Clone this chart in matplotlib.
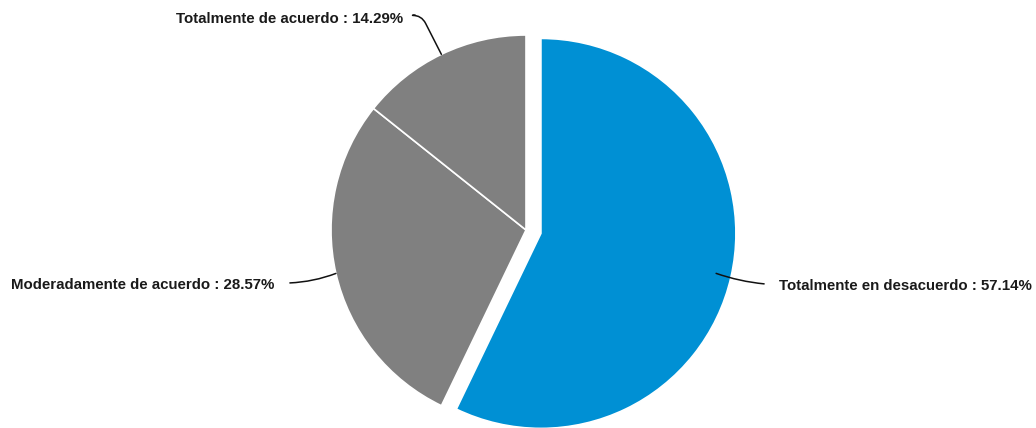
import numpy as np
import matplotlib
matplotlib.use("Agg")
import matplotlib.pyplot as plt

# ===============================
# Dados
# ===============================
labels = ["Totalmente en desacuerdo", "Moderadamente de acuerdo", "Totalmente de acuerdo"]
values = [57.14, 28.57, 14.29]
colors = ["#0090d4", "#808080", "#808080"]
explode = [15.3, 0, 0]

# deslocamentos (px) do fim da linha e do texto em relação à borda da fatia
line_off = [(48, -10.5), (-46, -9.5), (-26, 39)]
text_off = [(63, -12.5), (-62, -11.5), (-38, 35)]
text_ha = ["left", "right", "right"]
line_style = ["arc3,rad=0.06", "arc3,rad=-0.08", "angle,angleA=117,angleB=0,rad=9"]

plt.rcParams["font.family"] = ["Liberation Sans", "DejaVu Sans"]

W, H = 1036, 428
fig = plt.figure(figsize=(W / 100, H / 100), dpi=100)
ax = fig.add_axes([0, 0, 1, 1])
ax.axis("off")

cx, cy, r = 526, 198, 195
wedges, _ = ax.pie(values, colors=colors, explode=explode, startangle=90,
                   counterclock=False, radius=r, center=(cx, cy),
                   wedgeprops=dict(edgecolor="white", linewidth=1.2))
ax.set_xlim(0, W)
ax.set_ylim(0, H)
ax.set_aspect("equal")

for i, w in enumerate(wedges):
    ang = np.deg2rad((w.theta1 + w.theta2) / 2)
    px, py = cx + r * np.cos(ang), cy + r * np.sin(ang)
    lx, ly = px + line_off[i][0], py + line_off[i][1]
    tx, ty = px + text_off[i][0], py + text_off[i][1]
    ax.annotate("", xy=(lx, ly), xytext=(px, py),
                arrowprops=dict(arrowstyle="-", color="#111111", lw=1.1,
                                shrinkA=0, shrinkB=0,
                                connectionstyle=line_style[i]))
    ax.text(tx, ty, f"{labels[i]} : {values[i]:.2f}%", ha=text_ha[i], va="center",
            fontsize=10.8, fontweight="bold", color="#1a1a1a")

fig.savefig("out.png", dpi=100)
